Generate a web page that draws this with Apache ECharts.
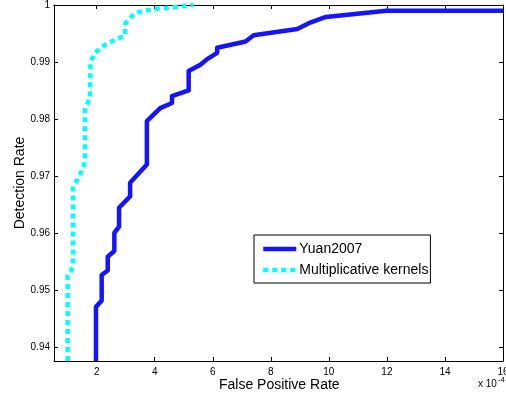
<!DOCTYPE html>
<html>
<head>
<meta charset="utf-8">
<script src="https://cdn.jsdelivr.net/npm/echarts@6/dist/echarts.min.js"></script>
<style>html,body{margin:0;padding:0;background:#fff}#c{width:506px;height:394px}</style>
</head>
<body>
<div id="c"></div>
<script>
// False positive rate (x 10^-4) and detection rate
var yuanFpr = [1.976, 1.976, 2.173, 2.173, 2.381, 2.381, 2.609, 2.609, 2.772, 2.772, 3.152, 3.152, 3.730, 3.730, 4.190, 4.595, 4.595, 5.170, 5.170, 5.574, 5.806, 6.152, 6.152, 7.131, 7.408, 8.913, 9.31, 9.90, 11.98, 16.0];
var yuanTpr = [0.9375, 0.9470, 0.9481, 0.9526, 0.9534, 0.9558, 0.9568, 0.9600, 0.9611, 0.9644, 0.9664, 0.9688, 0.9720, 0.9796, 0.9819, 0.9828, 0.9840, 0.9850, 0.9884, 0.9895, 0.9905, 0.9916, 0.9925, 0.9936, 0.9947, 0.9958, 0.9968, 0.9979, 0.9990, 0.9990];
var multFpr = [1.0, 1.0, 1.11, 1.19, 1.19, 1.31, 1.54, 1.595, 1.595, 1.77, 1.785, 1.94, 2.29, 2.63, 2.98, 2.98, 3.04, 3.33, 3.67, 4.02, 4.48, 5.34];
var multTpr = [0.9375, 0.9525, 0.9532, 0.9543, 0.9679, 0.9691, 0.9714, 0.9727, 0.9816, 0.9837, 0.9899, 0.9916, 0.9930, 0.9939, 0.9946, 0.9966, 0.9971, 0.9986, 0.9990, 0.9993, 0.9995, 1.0000];
var seriesNames = ['Yuan2007', 'Multiplicative kernels'];
var xTicks = [2, 4, 6, 8, 10, 12, 14, 16];
var yTicks = [0.94, 0.95, 0.96, 0.97, 0.98, 0.99, 1];
var xLabel = 'False Positive Rate';
var yLabel = 'Detection Rate';

function zip(a, b) { return a.map(function (v, i) { return [v, b[i]]; }); }

var FONT = '"Liberation Sans", Arial, Helvetica, sans-serif';
var axisCommon = {
  type: 'value',
  axisLine: { show: true, onZero: false, lineStyle: { color: '#000', width: 1 } },
  axisTick: { show: true, inside: true, length: 4, lineStyle: { color: '#000' } },
  splitLine: { show: false },
  axisLabel: { show: false }
};
function ax(extra) { return echarts.util.merge(echarts.util.clone(axisCommon), extra, true); }

var chart = echarts.init(document.getElementById('c'), null, { renderer: 'canvas' });
chart.setOption({
  animation: false,
  backgroundColor: '#fff',
  textStyle: { fontFamily: FONT },
  grid: { left: 54, right: 3, top: 5, bottom: 33, containLabel: false, outerBoundsMode: 'none' },
  xAxis: [
    ax({ position: 'bottom', min: 0.53, max: 16,
      axisTick: { customValues: xTicks },
      axisLabel: { show: true, customValues: xTicks, color: '#000', fontSize: 10, margin: 6, fontFamily: FONT } }),
    ax({ position: 'top', min: 0.53, max: 16, axisTick: { customValues: xTicks } })
  ],
  yAxis: [
    ax({ position: 'left', min: 0.9375, max: 1,
      axisTick: { customValues: yTicks },
      axisLabel: { show: true, customValues: yTicks, color: '#000', fontSize: 10, margin: 4, fontFamily: FONT,
        formatter: function (v) { return String(Math.round(v * 100) / 100); } } }),
    ax({ position: 'right', min: 0.9375, max: 1, axisTick: { customValues: yTicks } })
  ],
  legend: {
    left: 254, top: 235,
    orient: 'vertical',
    data: seriesNames,
    backgroundColor: '#fff',
    borderColor: '#000', borderWidth: 1, borderRadius: 0,
    padding: [7, 2, 6, 7],
    itemWidth: 33, itemHeight: 14, itemGap: 7,
    itemStyle: { opacity: 0 },
    lineStyle: { width: 4.5 },
    textStyle: { fontSize: 14, color: '#000', fontFamily: FONT, padding: [0, 0, 0, -2] },
    selectedMode: false
  },
  series: [
    { name: seriesNames[0], type: 'line', data: zip(yuanFpr, yuanTpr), showSymbol: false, symbol: 'none',
      color: '#1414ff', lineStyle: { color: '#1414ff', width: 4.5, join: 'round' } },
    { name: seriesNames[1], type: 'line', data: zip(multFpr, multTpr), showSymbol: false, symbol: 'none',
      color: '#00ffff', lineStyle: { color: '#00ffff', width: 4.5, type: [5, 4] } }
  ],
  graphic: [
    { type: 'text', left: 219, top: 378, style: { text: xLabel, font: '14px ' + FONT, fill: '#000' } },
    { type: 'text', x: 20, y: 183, rotation: Math.PI / 2,
      style: { text: yLabel, font: '14px ' + FONT, fill: '#000', align: 'center', verticalAlign: 'middle' } },
    { type: 'text', left: 478, top: 376,
      style: { text: 'x 10{s|-4}', font: '10px ' + FONT, fill: '#000',
        rich: { s: { fontSize: 8, verticalAlign: 'top', padding: [0, 0, 8, 1], fontFamily: FONT } } } }
  ]
});
</script>
</body>
</html>
